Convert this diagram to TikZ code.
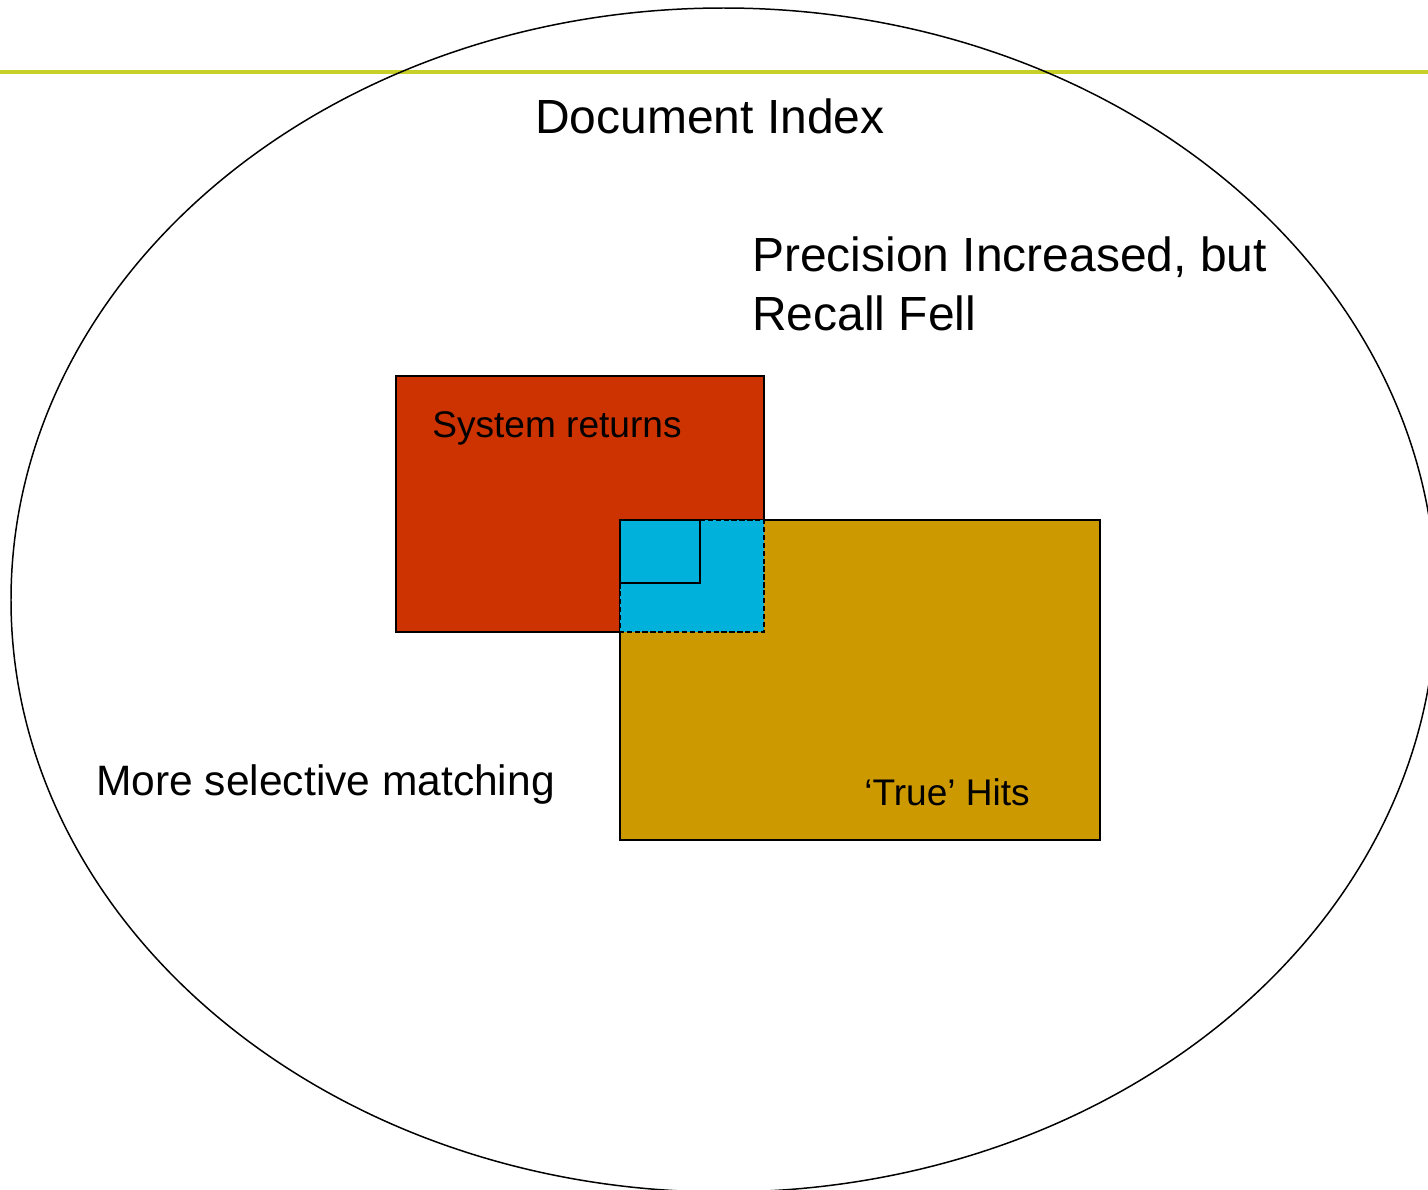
\documentclass[tikz,border=0pt]{standalone}
\usepackage{fontspec}
\setmainfont{Liberation Sans}
\usepackage{xcolor}
\usetikzlibrary{positioning}
\definecolor{retred}{RGB}{204,51,0}
\definecolor{hitgold}{RGB}{204,153,0}
\definecolor{matchcyan}{RGB}{0,178,219}
\definecolor{rulegreen}{RGB}{200,208,40}
\begin{document}
\begin{tikzpicture}[x=0.02cm, y=-0.02cm,
		big/.style = {anchor=base west, inner sep=0pt, font=\fontsize{27.3}{33}\selectfont},
		mid/.style = {anchor=base west, inner sep=0pt, font=\fontsize{24.2}{29}\selectfont},
		small/.style = {anchor=base west, inner sep=0pt, font=\fontsize{21.1}{25}\selectfont},
		box/.style = {draw, line width=1.3pt}]
		\clip (0,0) rectangle (1428,1190);
		\draw[rulegreen, line width=1.8pt] (0,72) -- (1428,72);
		\draw[line width=0.85pt] (723.5,600) ellipse [x radius=712.5, y radius=592];
		% the two result sets
		\fill[retred] (396,376) rectangle (764,632);
		\draw[box] (396,376) rectangle (764,632);
		\fill[hitgold] (620,520) rectangle (1100,840);
		\draw[box] (620,520) rectangle (1100,840);
		% overlap
		\fill[matchcyan] (620,520) rectangle (764,632);
		\draw[box, dashed, dash pattern=on 3pt off 1.5pt] (620,520) rectangle (764,632);
		\draw[box] (620,520) rectangle (700,583);
		\node[big] (index) at (535,133) {Document Index};
		\node[big] (prec) at (752,271) {Precision Increased, but};
		\node[big] (recall) at (752,330) {Recall Fell};
		\node[small] (sys) at (432,437) {System returns};
		\node[mid] (sel) at (96,795) {More selective matching};
		\node[small] (hits) at (864,805) {‘True’ Hits};
	\end{tikzpicture}
\end{document}
